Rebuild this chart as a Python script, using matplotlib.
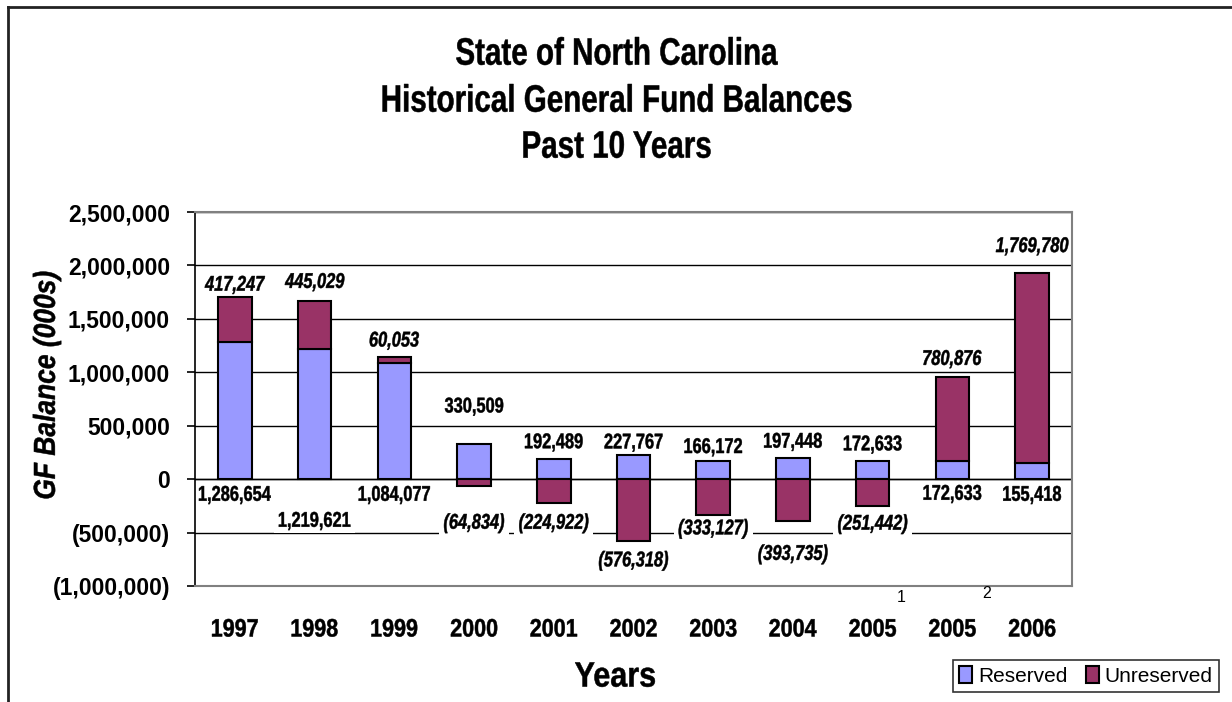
import matplotlib
matplotlib.use("Agg")
import matplotlib.pyplot as plt
import matplotlib.transforms as mtransforms
from matplotlib.lines import Line2D
from matplotlib.patches import Patch, PathPatch, Rectangle
from matplotlib.textpath import TextPath
from matplotlib.font_manager import FontProperties
from matplotlib.ticker import FuncFormatter
import numpy as np

# data (000s)
years = ["1997", "1998", "1999", "2000", "2001", "2002", "2003", "2004", "2005", "2005", "2006"]
reserved = [1286654, 1219621, 1084077, 330509, 192489, 227767, 166172, 197448, 172633, 172633, 155418]
unreserved = [417247, 445029, 60053, -64834, -224922, -576318, -333127, -393735, -251442, 780876, 1769780]
footnotes = {8: "1", 9: "2"}
title_lines = ["State of North Carolina", "Historical General Fund Balances", "Past 10 Years"]

COL_RES = "#9999FF"
COL_UNR = "#993366"

plt.rcParams["font.family"] = ["Liberation Sans", "DejaVu Sans"]

DPI = 100
PX = 72.0 / DPI  # pixels -> points

fig = plt.figure(figsize=(12.32, 7.02), dpi=DPI)
ax = fig.add_axes([195 / 1232, 116 / 702, (1072 - 195) / 1232, (586 - 212) / 702])


def tall_text(owner, x, y, s, base, size, sy=1.0, dx=0, dy=0, weight="bold", style="normal",
              rotation=0, bg=False, zorder=6):
    # the original chart's text is vertically stretched; draw glyph outlines with a y-scale
    prop = FontProperties(family="Liberation Sans", weight=weight, style=style)
    tp = TextPath((0, 0), s, size=size, prop=prop)
    bb = tp.get_extents()
    cx = (bb.x0 + bb.x1) / 2
    cy = 0.716 * size / 2
    tr = (mtransforms.Affine2D().translate(-cx, -cy).scale(1, sy).rotate_deg(rotation)
          .scale(DPI / 72.0).translate(dx, dy) + mtransforms.ScaledTranslation(x, y, base))
    if bg:
        # white box that hides grid lines behind the label, but stays under the bars
        pad = 0.15 * size
        y0 = min(bb.y0, 0) - pad
        y1 = max(bb.y1, 0.716 * size) + pad
        rect = Rectangle((bb.x0 - 2 * pad, y0), bb.width + 4 * pad, y1 - y0,
                         transform=tr, facecolor="white", edgecolor="none", zorder=2.5,
                         clip_on=False)
        owner.add_artist(rect)
    owner.add_artist(PathPatch(tp, transform=tr, facecolor="black", edgecolor="black",
                               linewidth=0.35, zorder=zorder, clip_on=False))


x = np.arange(len(years))
w = 0.42
res = np.array(reserved)
unr = np.array(unreserved)
unr_bottom = np.where(unr > 0, res, 0)

ax.bar(x, res, w, color=COL_RES, edgecolor="black", linewidth=1.5, zorder=3, label="Reserved")
ax.bar(x, unr, w, bottom=unr_bottom, color=COL_UNR, edgecolor="black", linewidth=1.5, zorder=3,
       label="Unreserved")

ax.set_xlim(-0.5, len(years) - 0.5)
ax.set_ylim(-1000000, 2500000)
ax.set_yticks(np.arange(-1000000, 2500001, 500000))


def fmt(v, pos=None):
    if v < 0:
        return "({:,.0f})".format(-v)
    return "{:,.0f}".format(v)


ax.yaxis.set_major_formatter(FuncFormatter(fmt))
ax.grid(axis="y", color="black", linewidth=1, zorder=1)
ax.axhline(0, color="black", linewidth=1, zorder=2)
ax.set_axisbelow(True)

for s in ["top", "right", "bottom"]:
    ax.spines[s].set_color("#808080")
    ax.spines[s].set_linewidth(1.5)
ax.spines["left"].set_color("black")
ax.spines["left"].set_linewidth(1.2)

ax.set_xticks(x)
ax.set_xticklabels([])
ax.tick_params(axis="x", length=0)
ax.tick_params(axis="y", length=6, width=1.2, pad=12, labelsize=16.5)
for t in ax.get_yticklabels():
    t.set_fontweight("bold")

# category labels under the axis
xbase = mtransforms.blended_transform_factory(ax.transData, ax.transAxes)
for i, yr in enumerate(years):
    tall_text(ax, x[i], 0, yr, xbase, 15.5, sy=1.17, dy=-41.5)

# label offsets (pixels, + up) relative to bar ends
unr_off = [14, 21, 18, -35, -18, -18, -12, -31, -16, 20, 29]
res_off = [-14, -40, -14, 39, 18, 14, 16, 18, 18, -13, -14]

for i in range(len(years)):
    yend = res[i] + unr[i] if unr[i] > 0 else unr[i]
    tall_text(ax, x[i], yend, fmt(unr[i]), ax.transData, 11.8, sy=1.3, dy=unr_off[i],
              style="italic", bg=True)
    yref = 0 if unr[i] > 0 else res[i]
    tall_text(ax, x[i], yref, fmt(res[i]), ax.transData, 11.8, sy=1.3, dy=res_off[i], bg=True)

# footnote markers next to 2005 ticks
fn_dx = {"1": 29, "2": 34}
fn_dy = {"1": -11, "2": -8}
for i, mark in footnotes.items():
    ax.annotate(mark, (x[i], 0), xycoords=("data", "axes fraction"),
                xytext=(fn_dx[mark] * PX, fn_dy[mark] * PX),
                textcoords="offset points", ha="center", va="center", fontsize=11.5,
                annotation_clip=False)

# axis titles
tall_text(fig, 44 / 1232, 1 - 385 / 702, "GF Balance (000s)", fig.transFigure, 19, sy=1.15,
          style="italic", rotation=90)
tall_text(fig, 615 / 1232, 1 - 674 / 702, "Years", fig.transFigure, 22, sy=1.15)

# title
for ypx, line in zip([51, 98, 144], title_lines):
    tall_text(fig, 617 / 1232, 1 - ypx / 702, line, fig.transFigure, 21.3, sy=1.29)

# legend
handles = [Patch(facecolor=COL_RES, edgecolor="black", linewidth=1.5, label="Reserved"),
           Patch(facecolor=COL_UNR, edgecolor="black", linewidth=1.5, label="Unreserved")]
leg = fig.legend(handles=handles, loc="lower right", bbox_to_anchor=(1219 / 1232, 10 / 702),
                 bbox_transform=fig.transFigure, ncol=2, fontsize=15, frameon=True, fancybox=False,
                 borderaxespad=0, handlelength=0.6, handleheight=0.85, handletextpad=0.3,
                 columnspacing=0.9, borderpad=0.3)
leg.get_frame().set_edgecolor("black")
leg.get_frame().set_linewidth(1.2)

# outer chart frame (left and top edges)
fig.add_artist(Line2D([8 / 1232, 8 / 1232], [0, 1 - 7 / 702], transform=fig.transFigure,
                      color="#222222", linewidth=2))
fig.add_artist(Line2D([8 / 1232, 1], [1 - 7 / 702, 1 - 7 / 702], transform=fig.transFigure,
                      color="#222222", linewidth=2))

fig.savefig("out.png", dpi=DPI)
